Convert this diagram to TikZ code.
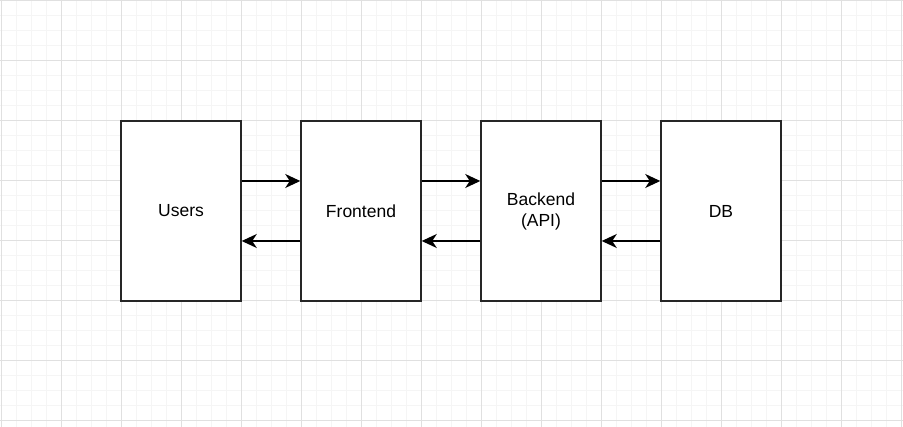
\documentclass[tikz,border=0pt]{standalone}
\usepackage{fontspec}
\setmainfont{Liberation Sans}
\usetikzlibrary{arrows.meta}
\begin{document}
\begin{tikzpicture}[x=1pt,y=-1pt,
  box/.style={draw=black!85,line width=1.5pt,minimum width=120pt,minimum height=180pt,inner sep=0pt,font=\fontsize{17.5}{21}\selectfont,align=center,fill=white},
  conn/.style={line width=1.5pt,-{Stealth[length=15pt,width=14pt,inset=4.5pt]}}]
\fill[white] (0,0) rectangle (903,427);
\useasboundingbox (0,0) rectangle (903,427);
\foreach \x in {1,16,...,903} \draw[black!4,line width=0.8pt] (\x,0) -- (\x,427);
\foreach \y in {0,15,...,427} \draw[black!4,line width=0.8pt] (0,\y) -- (903,\y);
\foreach \x in {1,61,...,903} \draw[black!12,line width=0.8pt] (\x,0) -- (\x,427);
\foreach \y in {0,60,...,427} \draw[black!12,line width=0.8pt] (0,\y) -- (903,\y);
\node[box] (users) at (181,211) {Users};
\node[box] (front) at (361,211) {Frontend};
\node[box] (back) at (541,211) {Backend\\(API)};
\node[box] (db) at (721,211) {DB};
\foreach \a/\b in {users/front,front/back,back/db}{
  \draw[conn] ([yshift=30pt]\a.east) -- ([yshift=30pt]\b.west);
  \draw[conn] ([yshift=-30pt]\b.west) -- ([yshift=-30pt]\a.east);
}
\end{tikzpicture}
\end{document}
